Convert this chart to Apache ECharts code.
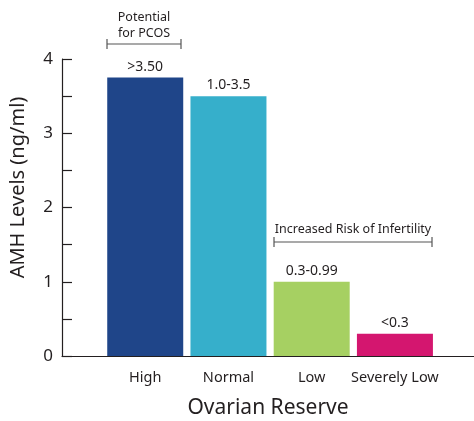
<!DOCTYPE html>
<html><head><meta charset="utf-8">
<script src="https://cdn.jsdelivr.net/npm/echarts@6/dist/echarts.min.js"></script>
<style>html,body{margin:0;padding:0;background:#fff}#c{width:474px;height:421px}</style>
</head><body><div id="c"></div>
<script>
var categories = ['High', 'Normal', 'Low', 'Severely Low'];
var values = [3.75, 3.5, 1.0, 0.3];
var rangeLabels = ['>3.50', '1.0-3.5', '0.3-0.99', '<0.3'];
var colors = ['#1f4589', '#36afcb', '#a6d062', '#d4166f'];
var yTicks = [0, 1, 2, 3, 4];

var FONT = 'Noto Sans';
var TXT = '#231f20';
var chart = echarts.init(document.getElementById('c'), null, {renderer: 'canvas'});
var data = categories.map(function (c, i) {
  return {value: [i + 1, values[i]], itemStyle: {color: colors[i]}, label: {formatter: rangeLabels[i]}};
});
function bracket(x1, x2, y) {
  var s = {stroke: '#555', lineWidth: 1.2};
  return [
    {type: 'line', shape: {x1: x1, y1: y, x2: x2, y2: y}, style: s},
    {type: 'line', shape: {x1: x1, y1: y - 5, x2: x1, y2: y + 5}, style: s},
    {type: 'line', shape: {x1: x2, y1: y - 5, x2: x2, y2: y + 5}, style: s}
  ];
}
var graphics = [].concat(
  bracket(107, 181, 44),
  bracket(274, 432, 242),
  [
    {type: 'text', style: {x: 144, y: 17, text: 'Potential', font: '12.5px "' + FONT + '"', fill: TXT, textAlign: 'center', textVerticalAlign: 'middle'}},
    {type: 'text', style: {x: 144, y: 33, text: 'for PCOS', font: '12.5px "' + FONT + '"', fill: TXT, textAlign: 'center', textVerticalAlign: 'middle'}},
    {type: 'text', style: {x: 353, y: 229, text: 'Increased Risk of Infertility', font: '12.5px "' + FONT + '"', fill: TXT, textAlign: 'center', textVerticalAlign: 'middle'}}
  ]
);
chart.setOption({
  animation: false,
  textStyle: {fontFamily: FONT, color: TXT},
  grid: {left: 62, right: 0, top: 59, bottom: 65, containLabel: false, outerBoundsMode: 'none'},
  xAxis: {
    type: 'value', min: 0, max: 4.95, interval: 1,
    axisLine: {show: true, lineStyle: {color: TXT, width: 1.2}},
    axisTick: {show: false},
    splitLine: {show: false},
    axisLabel: {
      showMaxLabel: false, margin: 14, fontSize: 14.5, color: TXT, fontFamily: FONT,
      formatter: function (v) { return categories[v - 1] || ''; }
    },
    name: 'Ovarian Reserve', nameLocation: 'middle', nameGap: 42,
    nameTextStyle: {fontSize: 21, color: TXT, fontFamily: FONT}
  },
  yAxis: {
    type: 'value', min: yTicks[0], max: yTicks[yTicks.length - 1], interval: 1,
    axisLine: {show: true, lineStyle: {color: TXT, width: 1.2}},
    axisTick: {show: true, inside: true, length: 10, lineStyle: {color: TXT, width: 1.2}},
    minorTick: {show: true, splitNumber: 2, length: 10, lineStyle: {color: TXT, width: 1.2}},
    splitLine: {show: false},
    axisLabel: {margin: 9, fontSize: 17, color: TXT, fontFamily: FONT},
    name: 'AMH Levels (ng/ml)', nameLocation: 'middle', nameGap: 34, nameRotate: 90,
    nameTextStyle: {fontSize: 20, color: TXT, fontFamily: FONT, padding: [0, 0, 0, 40]}
  },
  series: [{
    type: 'bar', barWidth: 76, data: data,
    label: {show: true, position: 'top', distance: 4, fontSize: 14, color: TXT, fontFamily: FONT}
  }],
  graphic: graphics
});
</script></body></html>
